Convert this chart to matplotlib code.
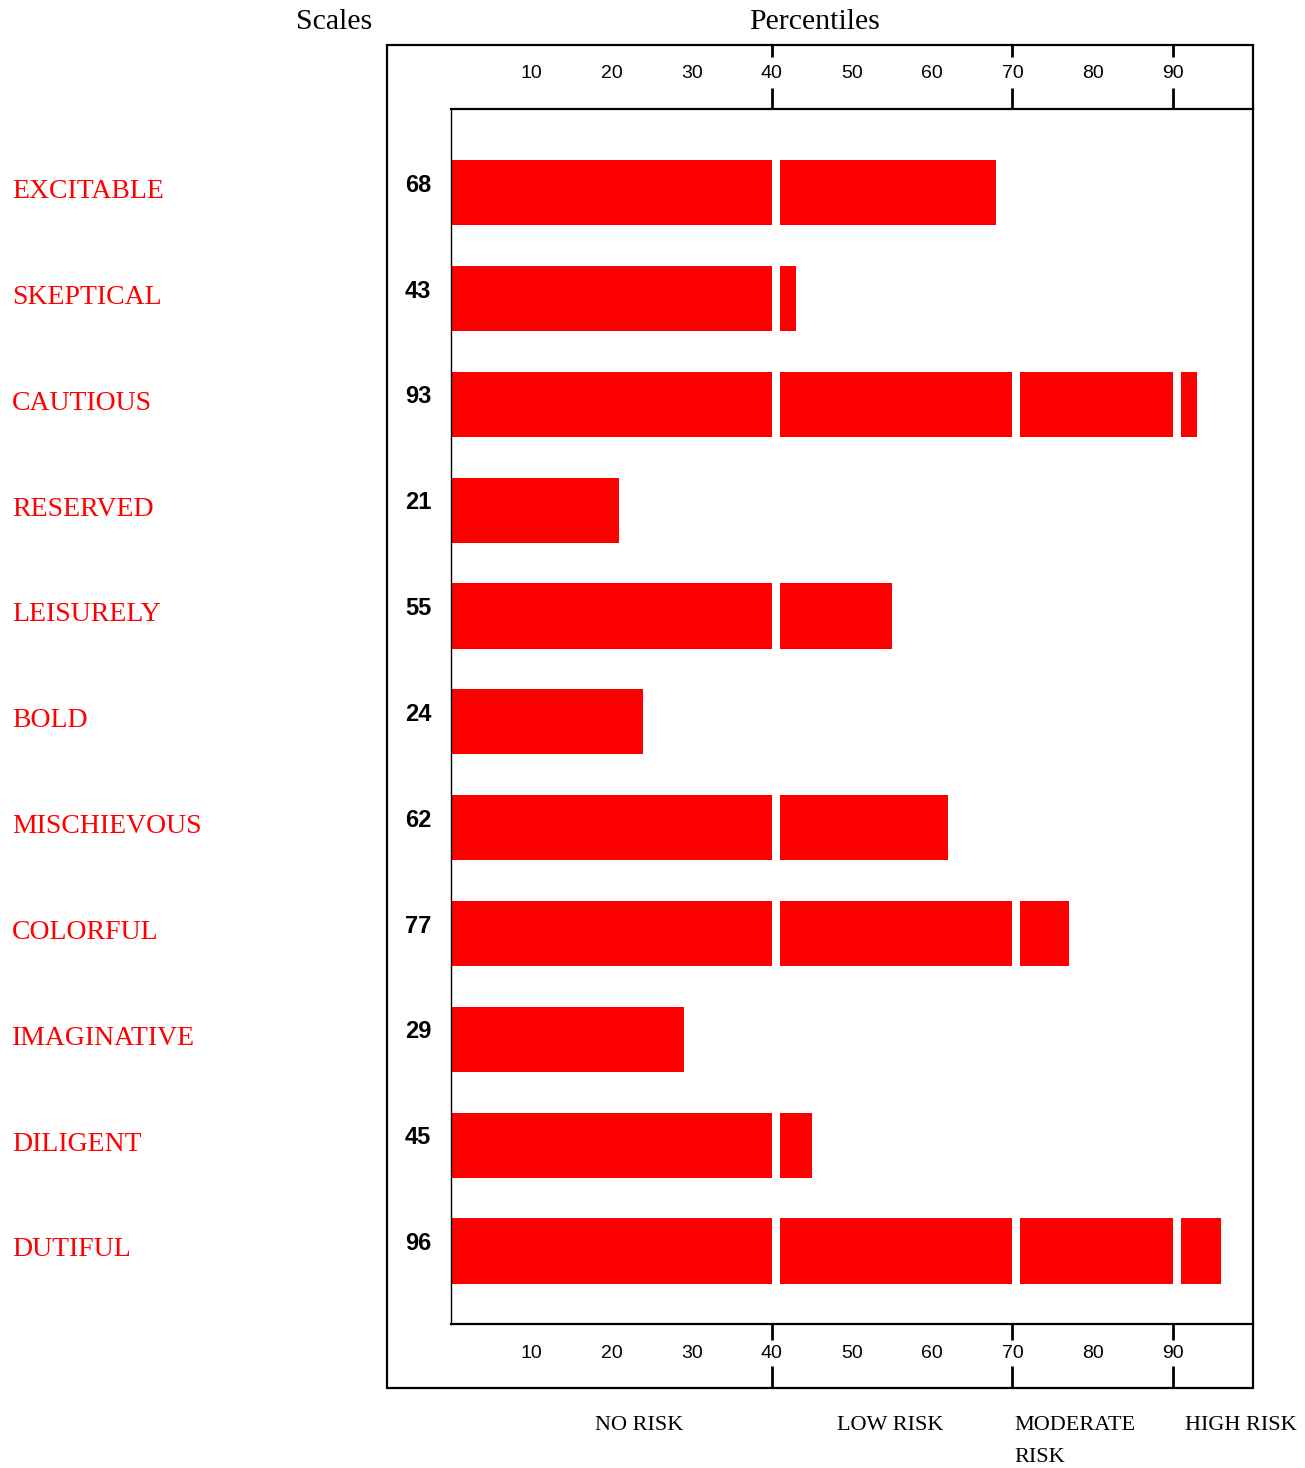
import matplotlib
matplotlib.use("Agg")
import matplotlib.pyplot as plt
import matplotlib.transforms as mtransforms
from matplotlib.patches import Rectangle

# ---- data ----
SCALES = ["EXCITABLE", "SKEPTICAL", "CAUTIOUS", "RESERVED", "LEISURELY", "BOLD",
          "MISCHIEVOUS", "COLORFUL", "IMAGINATIVE", "DILIGENT", "DUTIFUL"]
PERCENTILES = [68, 43, 93, 21, 55, 24, 62, 77, 29, 45, 96]
TICKS = [10, 20, 30, 40, 50, 60, 70, 80, 90]
BANDS = [40, 70, 90]          # risk band boundaries
BAND_LABELS = ["NO RISK", "LOW RISK", "MODERATE\nRISK", "HIGH RISK"]

RED = "#FF0000"
SERIF = ["Liberation Serif", "DejaVu Serif"]
SANS = ["Liberation Sans", "DejaVu Sans"]

W, H = 1305, 1468
fig = plt.figure(figsize=(W / 100, H / 100), dpi=100)

# inner plot box in pixels: x 451..1253, y 109..1324
L, R, T, B = 451, 1253, 109, 1324
ax = fig.add_axes([L / W, 1 - B / H, (R - L) / W, (B - T) / H])
ax.set_xlim(0, 100)
ax.set_ylim(len(SCALES) - 0.31, -0.79)
ax.set_xticks([])
ax.set_yticks([])
ax.spines["right"].set_visible(False)
ax.spines["top"].set_linewidth(1.6)
ax.spines["bottom"].set_linewidth(1.6)
ax.spines["left"].set_linewidth(1.0)

# outer box
fig.add_artist(Rectangle((387 / W, 1 - 1388 / H), (1253 - 387) / W, (1388 - 45) / H,
                         transform=fig.transFigure, fill=False, lw=1.6, color="black"))

# bars, split into risk-band segments with a small white gap
starts = [0] + [b + 1 for b in BANDS]
ends = BANDS + [100]
for i, v in enumerate(PERCENTILES):
    for s, e in zip(starts, ends):
        if v <= s:
            break
        ax.barh(i, min(v, e) - s, left=s, height=0.615, color=RED, linewidth=0)

# numbers and scale names
trans_num = mtransforms.blended_transform_factory(ax.transAxes, ax.transData)
for i, (name, v) in enumerate(zip(SCALES, PERCENTILES)):
    ax.text((418 - L) / (R - L), i - 0.07, str(v), transform=trans_num, ha="center",
            va="center", fontsize=17, fontweight="bold", family=SANS, clip_on=False)
    ax.text((12 - L) / (R - L), i - 0.01, name, transform=trans_num, ha="left",
            va="center", fontsize=20, color=RED, family=SERIF, clip_on=False)

# tick labels above and below
xt = ax.get_xaxis_transform()
def ay(p):
    return (B - p) / (B - T)

for t in TICKS:
    ax.text(t, ay(73), str(t), transform=xt, ha="center", va="center",
            fontsize=14, family=SANS, clip_on=False)
    ax.text(t, ay(1354), str(t), transform=xt, ha="center", va="center",
            fontsize=14, family=SANS, clip_on=False)

# band boundary marks
for b in BANDS:
    for y0, y1 in [(45, 57), (88, 109), (1324, 1340), (1366, 1388)]:
        ax.plot([b, b], [ay(y0), ay(y1)], transform=xt, color="black", lw=2,
                clip_on=False, solid_capstyle="butt")

# headers
fig.text(334 / W, 1 - 22 / H, "Scales", ha="center", va="center", fontsize=21.5, family=SERIF)
fig.text(815 / W, 1 - 22 / H, "Percentiles", ha="center", va="center", fontsize=21.5, family=SERIF)

# risk band labels
for x, lab in zip([595, 837, 1014, 1185], BAND_LABELS):
    fig.text(x / W, 1 - 1416 / H, lab, ha="left", va="top", fontsize=16,
             family=SERIF, linespacing=1.9)

fig.savefig("out.png", dpi=100)
